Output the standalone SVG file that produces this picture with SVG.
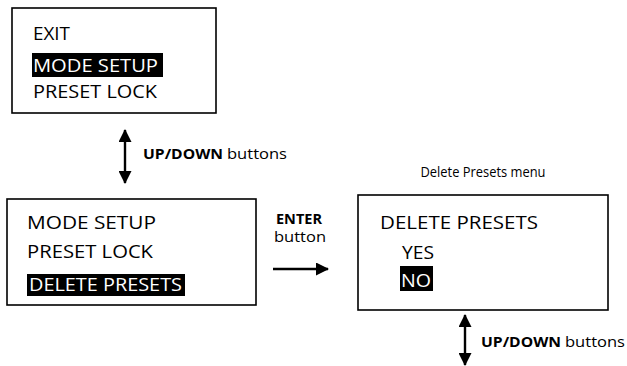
<svg xmlns="http://www.w3.org/2000/svg" width="627" height="366" viewBox="0 0 627 366">
<style>
.box{fill:#fff;stroke:#000;stroke-width:1.6}
.t{font-family:"Open Sans","Liberation Sans",sans-serif;font-size:19px;fill:#000}
.w{fill:#fff}
.s{font-family:"Open Sans","Liberation Sans",sans-serif;font-size:14.5px;fill:#000}
.b{font-weight:bold}
.hl{fill:#000}
.ln{stroke:#000;stroke-width:2.4;fill:none}
</style>
<defs>
<marker id="ah" viewBox="0 0 13 13" refX="12" refY="6.5" markerWidth="13" markerHeight="13" orient="auto-start-reverse" markerUnits="userSpaceOnUse">
<path d="M0,0 L13,6.5 L0,13 z" fill="#000"/>
</marker>
</defs>
<rect width="627" height="366" fill="#fff"/>
<g id="menu1">
<rect class="box" x="12" y="8" width="204" height="105"/>
<text class="t" x="33" y="40" textLength="37" lengthAdjust="spacingAndGlyphs">EXIT</text>
<rect class="hl" x="32" y="53" width="131" height="24"/>
<text class="t w" x="33" y="72" textLength="125" lengthAdjust="spacingAndGlyphs">MODE SETUP</text>
<text class="t" x="33" y="98" textLength="124" lengthAdjust="spacingAndGlyphs">PRESET LOCK</text>
</g>
<g id="menu2">
<rect class="box" x="7" y="199" width="249" height="106"/>
<text class="t" x="27" y="229" textLength="129" lengthAdjust="spacingAndGlyphs">MODE SETUP</text>
<text class="t" x="27" y="258" textLength="126" lengthAdjust="spacingAndGlyphs">PRESET LOCK</text>
<rect class="hl" x="27" y="274" width="158" height="22"/>
<text class="t w" x="29" y="291" textLength="153" lengthAdjust="spacingAndGlyphs">DELETE PRESETS</text>
</g>
<g id="menu3">
<text class="s" x="483" y="177" text-anchor="middle" textLength="125" lengthAdjust="spacingAndGlyphs">Delete Presets menu</text>
<rect class="box" x="358" y="195" width="250" height="115"/>
<text class="t" x="380" y="229" textLength="158" lengthAdjust="spacingAndGlyphs">DELETE PRESETS</text>
<text class="t" x="402" y="259" textLength="32" lengthAdjust="spacingAndGlyphs">YES</text>
<rect class="hl" x="400" y="266" width="33" height="25"/>
<text class="t w" x="401" y="287" textLength="30" lengthAdjust="spacingAndGlyphs">NO</text>
</g>
<g id="connectors">
<line class="ln" x1="125" y1="130" x2="125" y2="183" marker-start="url(#ah)" marker-end="url(#ah)"/>
<text class="s b" x="143" y="159" textLength="80" lengthAdjust="spacingAndGlyphs">UP/DOWN</text>
<text class="s" x="227" y="159" textLength="60" lengthAdjust="spacingAndGlyphs">buttons</text>
<text class="s b" x="299" y="224" text-anchor="middle" textLength="46" lengthAdjust="spacingAndGlyphs">ENTER</text>
<text class="s" x="300" y="242" text-anchor="middle" textLength="52" lengthAdjust="spacingAndGlyphs">button</text>
<line class="ln" x1="273" y1="269" x2="328" y2="269" marker-end="url(#ah)"/>
<line class="ln" x1="465" y1="315" x2="465" y2="365" marker-start="url(#ah)" marker-end="url(#ah)"/>
<text class="s b" x="481" y="347" textLength="80" lengthAdjust="spacingAndGlyphs">UP/DOWN</text>
<text class="s" x="565" y="347" textLength="60" lengthAdjust="spacingAndGlyphs">buttons</text>
</g>
</svg>
